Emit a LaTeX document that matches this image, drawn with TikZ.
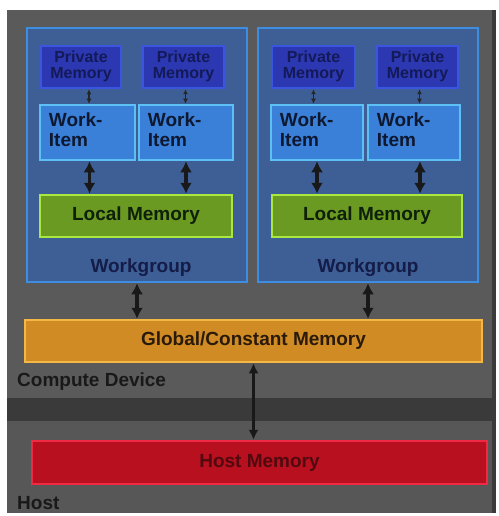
\documentclass[tikz,border=0pt]{standalone}
\usepackage{fontspec}
\setmainfont{Liberation Sans}
\usetikzlibrary{arrows.meta}
\definecolor{bgdark}{HTML}{3A3A3A}
\definecolor{devgray}{HTML}{5A5A5A}
\definecolor{hostgray}{HTML}{575757}
\definecolor{wgfill}{HTML}{3E5F96}
\definecolor{wgline}{HTML}{3D8DE0}
\definecolor{wgtext}{HTML}{141C48}
\definecolor{pmfill}{HTML}{2B38B2}
\definecolor{pmline}{HTML}{3A55E0}
\definecolor{pmtext}{HTML}{141A58}
\definecolor{wifill}{HTML}{3A80D8}
\definecolor{wiline}{HTML}{5CC0F5}
\definecolor{witext}{HTML}{0E1830}
\definecolor{lmfill}{HTML}{6B9A22}
\definecolor{lmline}{HTML}{A8E840}
\definecolor{lmtext}{HTML}{0F200A}
\definecolor{gmfill}{HTML}{D08B25}
\definecolor{gmline}{HTML}{F5B845}
\definecolor{gmtext}{HTML}{2A1A0A}
\definecolor{hmfill}{HTML}{B8101E}
\definecolor{hmline}{HTML}{F02A45}
\definecolor{hmtext}{HTML}{500A10}
\definecolor{darktext}{HTML}{121420}
\newcommand{\pmtxt}{\renewcommand{\arraystretch}{0.8}\begin{tabular}{@{}c@{}}Private\\Memory\end{tabular}}
\newcommand{\witxt}{\renewcommand{\arraystretch}{0.9}\begin{tabular}{@{}l@{}}Work-\\Item\end{tabular}}
\tikzset{
  x=1pt, y=-1pt,
  box/.style={draw, line width=2.5pt, inner sep=0pt, font=\bfseries\fontsize{19}{22}\selectfont, text=darktext},
  wgbox/.style={box, draw=wgline, fill=wgfill, minimum width=220pt, minimum height=254pt},
  pmbox/.style={box, draw=pmline, fill=pmfill, minimum height=42pt},
  pmlbl/.style={inner sep=0pt, text=pmtext, font=\bfseries\fontsize{16}{19}\selectfont},
  wibox/.style={box, draw=wiline, fill=wifill, minimum height=55pt},
  wilbl/.style={inner sep=0pt, anchor=west, text=witext, font=\bfseries\fontsize{19}{22}\selectfont},
  lmbox/.style={box, draw=lmline, fill=lmfill, minimum height=42pt, text=lmtext},
  gmbox/.style={box, draw=gmline, fill=gmfill, minimum height=42pt, text=gmtext},
  hmbox/.style={box, draw=hmline, fill=hmfill, minimum height=43pt, text=hmtext},
  lbl/.style={font=\bfseries\fontsize{19}{22}\selectfont, inner sep=0pt},
  smallarr/.style={line width=1.5pt, {Latex[length=5pt,width=5pt]}-{Latex[length=5pt,width=5pt]}, color=black!85},
  bigarr/.style={line width=3.5pt, {Latex[length=11pt,width=12pt]}-{Latex[length=11pt,width=12pt]}, color=black!90},
  hostarr/.style={line width=2.8pt, {Latex[length=10pt,width=10pt]}-{Latex[length=10pt,width=10pt]}, color=black!90},
}
\begin{document}
\begin{tikzpicture}
\useasboundingbox (0,0) rectangle (498,516);
\fill[white] (0,0) rectangle (498,516);
% backgrounds
\fill[bgdark] (7,10) rectangle (496,513);
\fill[devgray] (7,10) rectangle (492,398);
\fill[hostgray] (7,421) rectangle (492,513);

% workgroups
\node[wgbox] (wg1) at (137,155) {};
\node[wgbox] (wg2) at (368,155) {};
\node[lbl, text=wgtext] (wgl1) at (141,268) {Workgroup};
\node[lbl, text=wgtext] (wgl2) at (368,268) {Workgroup};

% private memories
\node[pmbox, minimum width=80pt] (p11) at (81,67) {};
\node[pmbox, minimum width=81pt] (p12) at (183.5,67) {};
\node[pmbox, minimum width=83pt] (p21) at (313.5,67) {};
\node[pmbox, minimum width=81pt] (p22) at (417.5,67) {};
\node[pmlbl] (p11t) at (p11) {\pmtxt};
\node[pmlbl] (p12t) at (p12) {\pmtxt};
\node[pmlbl] (p21t) at (p21) {\pmtxt};
\node[pmlbl] (p22t) at (p22) {\pmtxt};

% work items
\node[wibox, minimum width=95pt] (w11) at (87.5,132.5) {};
\node[wibox, minimum width=94pt] (w12) at (186,132.5) {};
\node[wibox, minimum width=92pt] (w21) at (317,132.5) {};
\node[wibox, minimum width=92pt] (w22) at (414,132.5) {};
\node[wilbl] (w11t) at ([xshift=10pt]w11.west) {\witxt};
\node[wilbl] (w12t) at ([xshift=10pt]w12.west) {\witxt};
\node[wilbl] (w21t) at ([xshift=10pt]w21.west) {\witxt};
\node[wilbl] (w22t) at ([xshift=10pt]w22.west) {\witxt};

% local memories
\node[lmbox, minimum width=192pt] (l1) at (136,216) {Local Memory};
\node[lmbox, minimum width=190pt] (l2) at (367,216) {Local Memory};

% global and host
\node[gmbox, minimum width=457pt] (gm) at (253.5,341) {Global/Constant Memory};
\node[hmbox, minimum width=455pt] (hm) at (259.5,462.5) {Host Memory};

\node[lbl, anchor=west, text=black!90] (cd) at (17,382) {Compute Device};
\node[lbl, anchor=west, text=black!90] (host) at (17,503) {Host};

% arrows
\draw[smallarr] ([xshift=8pt]p11.south) -- ([xshift=8pt]p11.south |- w11.north);
\draw[smallarr] ([xshift=2pt]p12.south) -- ([xshift=2pt]p12.south |- w12.north);
\draw[smallarr] (p21.south) -- (p21.south |- w21.north);
\draw[smallarr] ([xshift=2pt]p22.south) -- ([xshift=2pt]p22.south |- w22.north);

\draw[bigarr] ([xshift=2pt]w11.south) -- ([xshift=2pt]w11.south |- l1.north);
\draw[bigarr] (w12.south) -- (w12.south |- l1.north);
\draw[bigarr] (w21.south) -- (w21.south |- l2.north);
\draw[bigarr] ([xshift=6pt]w22.south) -- ([xshift=6pt]w22.south |- l2.north);

\draw[bigarr] (wg1.south) -- (wg1.south |- gm.north);
\draw[bigarr] (wg2.south) -- (wg2.south |- gm.north);

\draw[hostarr] (gm.south) -- (gm.south |- hm.north);
\end{tikzpicture}
\end{document}
